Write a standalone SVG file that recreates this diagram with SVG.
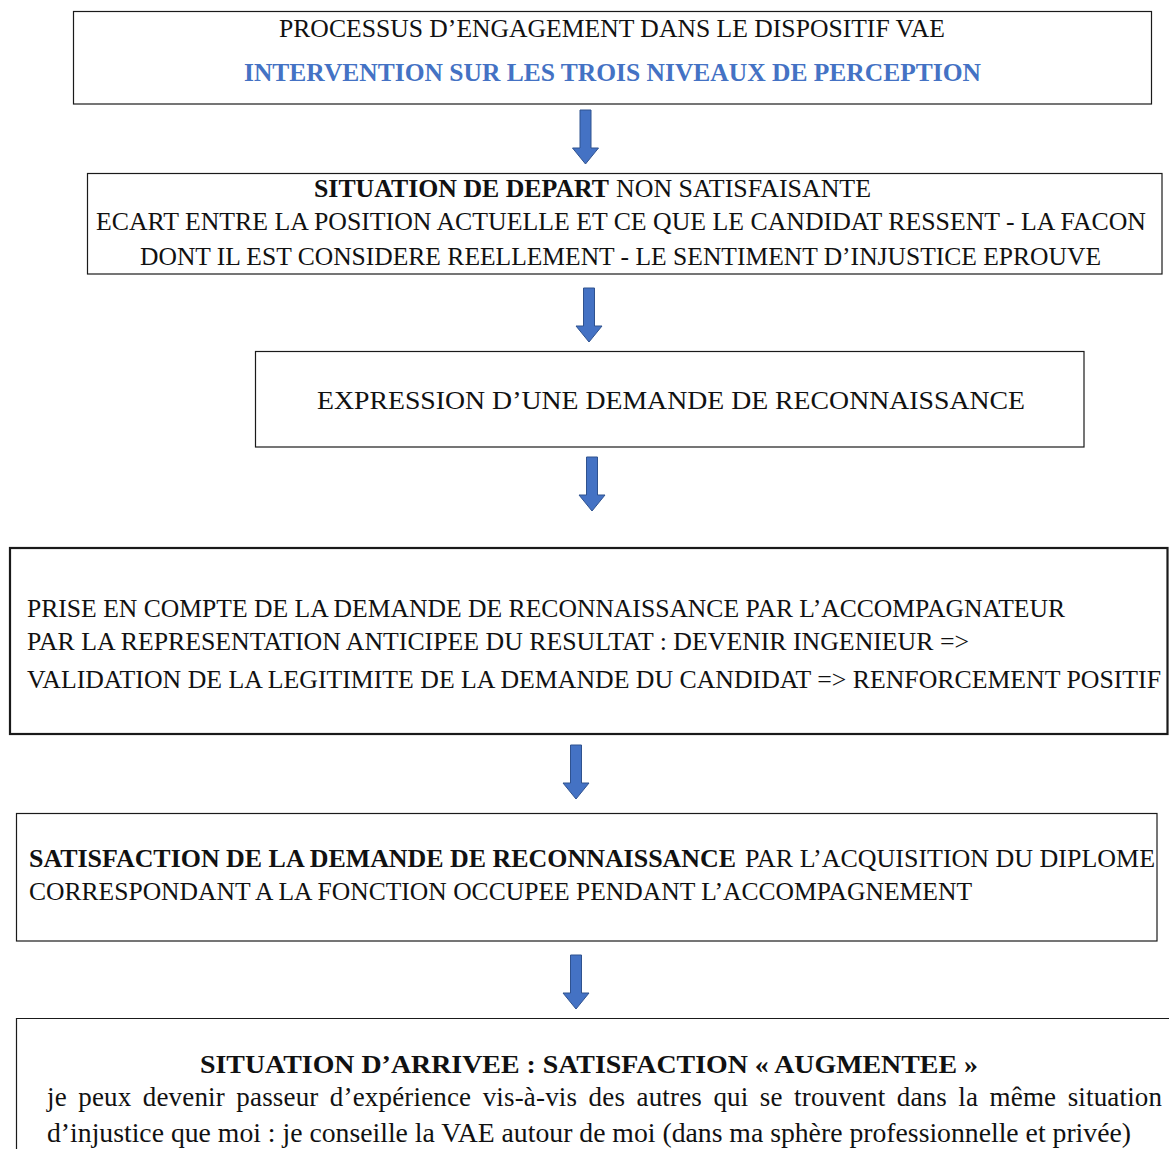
<svg xmlns="http://www.w3.org/2000/svg" xmlns:xlink="http://www.w3.org/1999/xlink" width="1169" height="1149" viewBox="0 0 1169 1149">
<style>
  .box { fill: #ffffff; stroke: #1a1a1a; stroke-width: 1.2; }
  .thick { stroke-width: 2.2; }
  .t { font-family: "Liberation Serif", "Times New Roman", serif; font-size: 25px; fill: #111111; }
  .b { font-weight: bold; }
  .blue { fill: #4472C4; font-weight: bold; }
  .arrow { fill: #4472C4; stroke: #2F528F; stroke-width: 1; }
</style>
<defs>
  <path id="dnArrow" class="arrow" d="M-5.5,0 H5.5 V38 H13 L0,54 L-13,38 H-5.5 Z"/>
</defs>
<rect width="1169" height="1149" fill="#ffffff"/>

<g id="connectors">
  <use xlink:href="#dnArrow" href="#dnArrow" transform="translate(585.5,110)"/>
  <use xlink:href="#dnArrow" href="#dnArrow" transform="translate(589,288)"/>
  <use xlink:href="#dnArrow" href="#dnArrow" transform="translate(592,457)"/>
  <use xlink:href="#dnArrow" href="#dnArrow" transform="translate(576,745)"/>
  <use xlink:href="#dnArrow" href="#dnArrow" transform="translate(576,955)"/>
</g>

<g id="node-processus">
  <rect class="box" x="73.5" y="11.5" width="1078" height="92.5"/>
  <text class="t" x="279" y="37" textLength="666" lengthAdjust="spacingAndGlyphs">PROCESSUS D’ENGAGEMENT DANS LE DISPOSITIF VAE</text>
  <text class="t blue" x="244" y="81" textLength="737" lengthAdjust="spacingAndGlyphs">INTERVENTION SUR LES TROIS NIVEAUX DE PERCEPTION</text>
</g>

<g id="node-depart">
  <rect class="box" x="87.5" y="173.5" width="1074.5" height="100.5"/>
  <text class="t b" x="314" y="197" textLength="295" lengthAdjust="spacingAndGlyphs">SITUATION DE DEPART</text>
  <text class="t" x="616" y="197" textLength="255" lengthAdjust="spacingAndGlyphs">NON SATISFAISANTE</text>
  <text class="t" x="96" y="230" textLength="1050" lengthAdjust="spacingAndGlyphs">ECART ENTRE LA POSITION ACTUELLE ET CE QUE LE CANDIDAT RESSENT - LA FACON</text>
  <text class="t" x="140" y="265" textLength="961" lengthAdjust="spacingAndGlyphs">DONT IL EST CONSIDERE REELLEMENT - LE SENTIMENT D’INJUSTICE EPROUVE</text>
</g>

<g id="node-expression">
  <rect class="box" x="255.5" y="351.5" width="828.5" height="95.5"/>
  <text class="t" x="317" y="409" style="font-size:26px" textLength="708" lengthAdjust="spacingAndGlyphs">EXPRESSION D’UNE DEMANDE DE RECONNAISSANCE</text>
</g>

<g id="node-prise">
  <rect class="box thick" x="10" y="548" width="1157.5" height="186"/>
  <text class="t" x="27" y="617" textLength="1038" lengthAdjust="spacingAndGlyphs">PRISE EN COMPTE DE LA DEMANDE DE RECONNAISSANCE PAR L’ACCOMPAGNATEUR</text>
  <text class="t" x="27" y="650" textLength="942" lengthAdjust="spacingAndGlyphs">PAR LA REPRESENTATION ANTICIPEE DU RESULTAT : DEVENIR INGENIEUR =&gt;</text>
  <text class="t" x="27" y="688" textLength="1134" lengthAdjust="spacingAndGlyphs">VALIDATION DE LA LEGITIMITE DE LA DEMANDE DU CANDIDAT =&gt; RENFORCEMENT POSITIF</text>
</g>

<g id="node-satisfaction">
  <rect class="box" x="16.5" y="813.5" width="1140.5" height="127.5"/>
  <text class="t b" x="29" y="867" textLength="707" lengthAdjust="spacingAndGlyphs">SATISFACTION DE LA DEMANDE DE RECONNAISSANCE</text>
  <text class="t" x="745" y="867" textLength="410" lengthAdjust="spacingAndGlyphs">PAR L’ACQUISITION DU DIPLOME</text>
  <text class="t" x="29" y="900" textLength="943" lengthAdjust="spacingAndGlyphs">CORRESPONDANT A LA FONCTION OCCUPEE PENDANT L’ACCOMPAGNEMENT</text>
</g>

<g id="node-arrivee">
  <path d="M1175,1018.5 H16.5 V1155" fill="#ffffff" stroke="#1a1a1a" stroke-width="1.2"/>
  <text class="t b" x="200" y="1073" textLength="778" lengthAdjust="spacingAndGlyphs">SITUATION D’ARRIVEE : SATISFACTION « AUGMENTEE »</text>
  <text class="t" x="47" y="1106" style="font-size:27px" word-spacing="4.5" textLength="1115" lengthAdjust="spacing">je peux devenir passeur d’expérience vis-à-vis des autres qui se trouvent dans la même situation</text>
  <text class="t" x="47" y="1142" style="font-size:27px" textLength="1084" lengthAdjust="spacingAndGlyphs">d’injustice que moi : je conseille la VAE autour de moi (dans ma sphère professionnelle et privée)</text>
</g>
</svg>
